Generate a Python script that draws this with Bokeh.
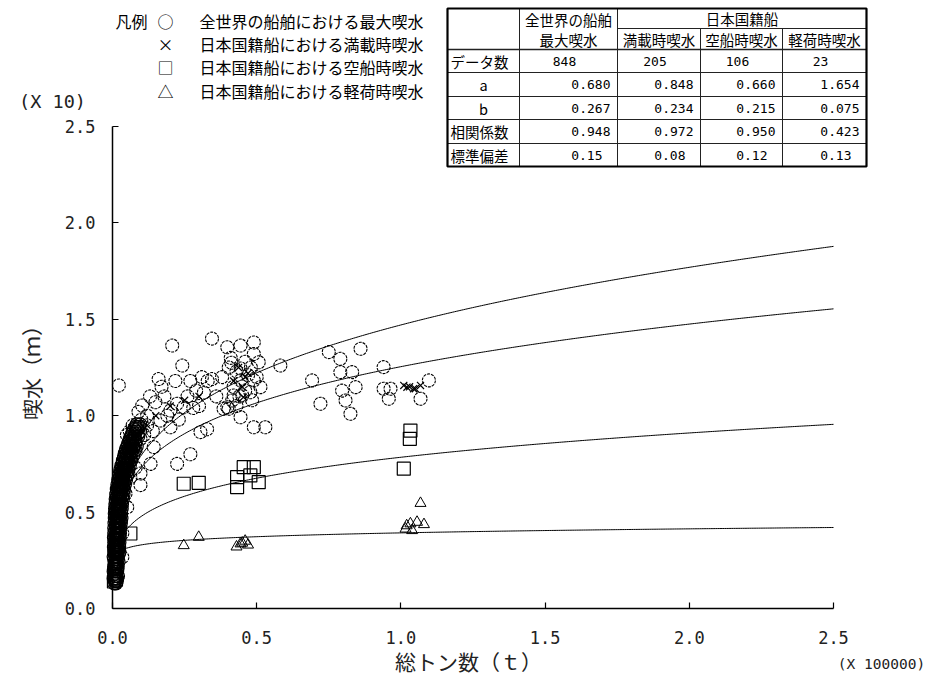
import numpy as np
from bokeh.plotting import figure
from bokeh.models import Range1d, FixedTicker, PrintfTickFormatter
from bokeh.core.properties import value
from bokeh.embed import file_html
from bokeh.resources import INLINE

JP = "Noto Sans CJK JP"
MONO = "DejaVu Sans Mono"

# ---------------- regression table ----------------
group_world = "全世界の船舶"
group_japan = "日本国籍船"
series_heads = ["最大喫水", "満載時喫水", "空船時喫水", "軽荷時喫水"]
row_heads = ["データ数", "a", "b", "相関係数", "標準偏差"]
n_data = [848, 205, 106, 23]
coef_a = [0.680, 0.848, 0.660, 1.654]
coef_b = [0.267, 0.234, 0.215, 0.075]
corr = [0.948, 0.972, 0.950, 0.423]
std_dev = [0.15, 0.08, 0.12, 0.13]
fit_start = [0.003, 0.005, 0.04, 0.03]   # smallest gross tonnage of each fit (x 100000 t)

legend_marks = ["○", "×", "□", "△"]
legend_texts = ["全世界の船舶における最大喫水", "日本国籍船における満載時喫水",
                "日本国籍船における空船時喫水", "日本国籍船における軽荷時喫水"]

x_ticks = [0.0, 0.5, 1.0, 1.5, 2.0, 2.5]
y_ticks = [0.0, 0.5, 1.0, 1.5, 2.0, 2.5]

# ---------------- observations (x 100000 t, x 10 m) ----------------
world_small = [
    (0.006, 0.13), (0.012, 0.13),
    (0.004, 0.155), (0.010, 0.155), (0.016, 0.155),
    (0.007, 0.18), (0.013, 0.18),
    (0.005, 0.205), (0.011, 0.205), (0.017, 0.205),
    (0.008, 0.23), (0.014, 0.23),
    (0.006, 0.255), (0.012, 0.255), (0.018, 0.255),
    (0.009, 0.28), (0.015, 0.28), (0.021, 0.28),
    (0.007, 0.305), (0.013, 0.305), (0.019, 0.305),
    (0.010, 0.33), (0.016, 0.33), (0.022, 0.33),
    (0.008, 0.355), (0.014, 0.355), (0.020, 0.355),
    (0.011, 0.38), (0.017, 0.38), (0.023, 0.38),
    (0.009, 0.405), (0.015, 0.405), (0.021, 0.405),
    (0.012, 0.43), (0.018, 0.43), (0.024, 0.43),
    (0.010, 0.455), (0.016, 0.455), (0.022, 0.455), (0.028, 0.455),
    (0.013, 0.48), (0.019, 0.48), (0.025, 0.48),
    (0.011, 0.505), (0.017, 0.505), (0.023, 0.505), (0.029, 0.505),
    (0.014, 0.53), (0.020, 0.53), (0.026, 0.53),
    (0.012, 0.555), (0.018, 0.555), (0.024, 0.555), (0.030, 0.555),
    (0.015, 0.58), (0.021, 0.58), (0.027, 0.58), (0.033, 0.58),
    (0.017, 0.605), (0.023, 0.605), (0.029, 0.605), (0.035, 0.605),
    (0.019, 0.63), (0.025, 0.63), (0.031, 0.63), (0.037, 0.63),
    (0.022, 0.655), (0.028, 0.655), (0.034, 0.655), (0.040, 0.655),
    (0.025, 0.68), (0.031, 0.68), (0.037, 0.68), (0.044, 0.68),
    (0.028, 0.705), (0.034, 0.705), (0.041, 0.705), (0.048, 0.705),
    (0.031, 0.73), (0.038, 0.73), (0.045, 0.73), (0.052, 0.73),
    (0.035, 0.755), (0.042, 0.755), (0.049, 0.755), (0.056, 0.755),
    (0.039, 0.78), (0.046, 0.78), (0.053, 0.78), (0.061, 0.78),
    (0.043, 0.805), (0.050, 0.805), (0.058, 0.805), (0.066, 0.805),
    (0.048, 0.83), (0.056, 0.83), (0.064, 0.83), (0.072, 0.83),
    (0.054, 0.855), (0.062, 0.855), (0.070, 0.855), (0.079, 0.855),
    (0.060, 0.88), (0.069, 0.88), (0.078, 0.88),
    (0.067, 0.905), (0.077, 0.905), (0.088, 0.905),
    (0.075, 0.93), (0.086, 0.93),
    (0.084, 0.955), (0.096, 0.955),
    (0.009, 0.142), (0.015, 0.142),
    (0.007, 0.168), (0.013, 0.168), (0.019, 0.168),
    (0.004, 0.192), (0.010, 0.192), (0.016, 0.192),
    (0.006, 0.218), (0.012, 0.218), (0.018, 0.218),
    (0.009, 0.242), (0.015, 0.242), (0.021, 0.242),
    (0.004, 0.268), (0.011, 0.268), (0.017, 0.268),
    (0.006, 0.292), (0.012, 0.292), (0.018, 0.292), (0.024, 0.292),
    (0.005, 0.318), (0.011, 0.318), (0.017, 0.318), (0.023, 0.318),
    (0.006, 0.342), (0.012, 0.342), (0.018, 0.342), (0.024, 0.342),
    (0.005, 0.368), (0.011, 0.368), (0.017, 0.368), (0.025, 0.368),
    (0.006, 0.392), (0.013, 0.392), (0.019, 0.392), (0.026, 0.392),
    (0.006, 0.418), (0.012, 0.418), (0.020, 0.418), (0.027, 0.418),
    (0.007, 0.442), (0.014, 0.442), (0.021, 0.442), (0.029, 0.442),
    (0.008, 0.468), (0.016, 0.468), (0.023, 0.468), (0.031, 0.468),
    (0.008, 0.492), (0.015, 0.492), (0.022, 0.492), (0.030, 0.492),
    (0.009, 0.518), (0.017, 0.518), (0.024, 0.518), (0.032, 0.518),
    (0.010, 0.542), (0.017, 0.542), (0.025, 0.542), (0.033, 0.542),
    (0.011, 0.568), (0.019, 0.568), (0.027, 0.568), (0.036, 0.568),
    (0.013, 0.592), (0.020, 0.592), (0.028, 0.592), (0.038, 0.592),
    (0.015, 0.618), (0.022, 0.618), (0.030, 0.618), (0.040, 0.618),
    (0.017, 0.642), (0.025, 0.642), (0.033, 0.642), (0.043, 0.642),
    (0.020, 0.668), (0.028, 0.668), (0.036, 0.668), (0.047, 0.668),
    (0.023, 0.692), (0.031, 0.692), (0.040, 0.692), (0.051, 0.692),
    (0.027, 0.718), (0.035, 0.718), (0.044, 0.718), (0.055, 0.718),
    (0.031, 0.742), (0.040, 0.742), (0.049, 0.742), (0.060, 0.742),
    (0.036, 0.768), (0.045, 0.768), (0.055, 0.768), (0.065, 0.768),
    (0.041, 0.792), (0.050, 0.792), (0.060, 0.792), (0.071, 0.792),
    (0.046, 0.818), (0.056, 0.818), (0.066, 0.818), (0.077, 0.818),
    (0.052, 0.842), (0.062, 0.842), (0.073, 0.842), (0.084, 0.842),
    (0.058, 0.868), (0.069, 0.868), (0.080, 0.868),
    (0.064, 0.892), (0.076, 0.892), (0.089, 0.892),
    (0.071, 0.918), (0.082, 0.918), (0.095, 0.918),
    (0.080, 0.942), (0.092, 0.942),
]
world_large = [
    (0.022, 1.157), (0.207, 1.364), (0.345, 1.400), (0.398, 1.355), (0.444, 1.364),
    (0.490, 1.380), (0.490, 1.320), (0.507, 1.277), (0.242, 1.260), (0.160, 1.190),
    (0.218, 1.180), (0.345, 1.190), (0.290, 1.130), (0.317, 1.120), (0.403, 1.250),
    (0.412, 1.275), (0.444, 1.245), (0.444, 1.183), (0.490, 1.183), (0.513, 1.148),
    (0.415, 1.079), (0.450, 1.105), (0.478, 1.122), (0.403, 1.036), (0.444, 0.992),
    (0.490, 0.940), (0.530, 0.940), (0.582, 1.260), (0.103, 1.053), (0.149, 1.070),
    (0.201, 1.027), (0.247, 1.044), (0.166, 0.975), (0.120, 0.950), (0.086, 0.940),
    (0.097, 0.880), (0.143, 0.837), (0.132, 0.750), (0.097, 0.700), (0.097, 0.640),
    (0.224, 0.750), (0.270, 0.800), (0.328, 0.930), (0.305, 0.915), (0.398, 1.044),
    (0.484, 1.080), (0.420, 1.105), (0.460, 1.130), (0.062, 0.870), (0.080, 0.820),
    (0.080, 0.730), (0.062, 0.680), (0.045, 0.595), (0.051, 0.525), (0.034, 0.390),
    (0.034, 0.266), (0.010, 0.145), (0.224, 1.062), (0.280, 1.040), (0.201, 0.940),
    (0.385, 1.036), (0.860, 1.347), (0.750, 1.330), (0.790, 1.295), (0.790, 1.226),
    (0.831, 1.226), (0.692, 1.183), (0.796, 1.130), (0.843, 1.148), (0.721, 1.062),
    (0.808, 1.079), (0.825, 1.010), (0.940, 1.252), (0.964, 1.140), (0.958, 1.088),
    (1.097, 1.183), (1.068, 1.088), (0.940, 1.140), (0.120, 1.000), (0.130, 1.100),
    (0.180, 1.100), (0.190, 1.000), (0.230, 0.980), (0.260, 1.100), (0.300, 1.050),
    (0.330, 1.180), (0.360, 1.100), (0.100, 0.980), (0.140, 0.920), (0.170, 1.150),
    (0.270, 1.180), (0.310, 1.200), (0.380, 1.200), (0.430, 1.230), (0.460, 1.280),
    (0.470, 1.210), (0.420, 1.150), (0.440, 1.100), (0.410, 1.300), (0.480, 1.250),
    (0.500, 1.200), (0.430, 1.050), (0.090, 1.020), (0.070, 0.950), (0.110, 0.900),
    (0.060, 0.920), (0.050, 0.900),
]
full_load = [
    (0.005, 0.20), (0.008, 0.28), (0.012, 0.35), (0.015, 0.42), (0.020, 0.50),
    (0.025, 0.56), (0.030, 0.62), (0.035, 0.67), (0.045, 0.72), (0.055, 0.78),
    (0.070, 0.85), (0.090, 0.90), (0.120, 0.95), (0.150, 1.00), (0.200, 1.05),
    (0.250, 1.08), (0.300, 1.10), (0.437, 1.250), (0.454, 1.096), (0.460, 1.200),
    (0.420, 1.180), (0.450, 1.150), (0.470, 1.220), (1.010, 1.157), (1.044, 1.140),
    (1.068, 1.157), (1.030, 1.150), (1.021, 1.148), (1.050, 1.140),
]
light_ship = [
    (0.005, 0.14), (0.012, 0.15), (0.008, 0.22), (0.012, 0.30), (0.016, 0.36),
    (0.062, 0.389), (0.247, 0.647), (0.299, 0.652), (0.432, 0.630), (0.432, 0.681),
    (0.455, 0.733), (0.490, 0.733), (0.478, 0.690), (0.507, 0.655), (1.033, 0.923),
    (1.031, 0.880), (1.010, 0.725),
]
light_load = [
    (0.010, 0.25), (0.015, 0.30), (0.020, 0.32), (0.247, 0.327), (0.299, 0.370),
    (0.444, 0.336), (0.430, 0.320), (0.460, 0.350), (0.450, 0.340), (0.470, 0.330),
    (1.068, 0.546), (1.033, 0.440), (1.016, 0.413), (1.056, 0.448), (1.080, 0.436),
    (1.039, 0.405), (1.020, 0.430),
]

# ---------------- page geometry ----------------
W, H = 925, 674
PX0, PY0 = 112, 608          # origin of the axes on the page
KX, KY = 288.4, 192.8        # pixels per axis unit


def ux(px):
    return (px - PX0) / KX


def uy(py):
    return (PY0 - py) / KY


# the frame fills the page; the axes sit at the origin via fixed_location
p = figure(width=W, height=H, x_range=Range1d(ux(0), ux(W)), y_range=Range1d(uy(H), uy(0)),
           output_backend="svg", toolbar_location=None, min_border=0)
p.outline_line_color = None
p.grid.visible = False
p.background_fill_color = "white"
p.border_fill_color = "white"

for ax, ticks in ((p.xaxis, x_ticks), (p.yaxis, y_ticks)):
    ax.fixed_location = 0
    ax.bounds = (0, 2.5)
    ax.ticker = FixedTicker(ticks=ticks)
    ax.formatter = PrintfTickFormatter(format="%.1f")
    ax.major_tick_in = 6
    ax.major_tick_out = 0
    ax.minor_tick_in = 0
    ax.minor_tick_out = 0
    ax.axis_line_width = 1.5
    ax.major_tick_line_width = 1.2
    ax.axis_line_color = "black"
    ax.major_tick_line_color = "black"
    ax.major_label_text_font = MONO
    ax.major_label_text_font_size = "17px"
    ax.major_label_text_color = "#222222"
p.xaxis.major_label_standoff = 22
p.yaxis.major_label_standoff = 17
p.yaxis.axis_label = "喫水（ｍ）"
p.yaxis.axis_label_text_font = JP
p.yaxis.axis_label_text_font_size = "21px"
p.yaxis.axis_label_text_font_style = "normal"
p.yaxis.axis_label_text_color = "#222222"
p.yaxis.axis_label_standoff = 16

# ---------------- fitted curves: draft = a * GT^b ----------------
for a, b, x0 in zip(coef_a, coef_b, fit_start):
    gx = np.linspace(x0, 2.5, 400)
    gy = a * (gx * 1e5) ** b / 10.0
    p.line(gx, gy, line_color="black", line_width=1)

# ---------------- observations ----------------
# dense cluster of small ships drawn with solid outlines, the rest dashed
p.scatter([q[0] for q in world_small], [q[1] for q in world_small], marker="circle", size=13,
          fill_color=None, line_color="black", line_width=1.2)
p.scatter([q[0] for q in world_large], [q[1] for q in world_large], marker="circle", size=13,
          fill_color=None, line_color="black", line_width=1.1, line_dash="3 1")
p.scatter([q[0] for q in full_load], [q[1] for q in full_load], marker="x", size=10,
          line_color="black", line_width=1.2)
p.scatter([q[0] for q in light_ship], [q[1] for q in light_ship], marker="square", size=13,
          fill_color=None, line_color="black", line_width=1.2)
p.scatter([q[0] for q in light_load], [q[1] for q in light_load], marker="triangle", size=11,
          fill_color=None, line_color="black", line_width=1)


def put(px, py, texts, font=JP, size="16px", align="left", color="black"):
    p.text([ux(x) for x in px], [uy(y) for y in py], text=texts,
           text_font=value(font), text_font_size=value(size), text_color=color,
           text_align=align, text_baseline="middle")


# ---------------- legend and axis captions ----------------
leg_rows = [20, 43, 66, 90]
put([147], [20], ["凡例"], align="right")
put([165] * 4, leg_rows, legend_marks, align="center")
put([199] * 4, leg_rows, legend_texts)
put([52], [101], ["(X 10)"], font=MONO, size="18.5px", align="center", color="#222222")
put([881], [663], ["(X 100000)"], font=MONO, size="14.5px", align="center", color="#222222")
put([468], [660], ["総トン数（ｔ）"], size="21px", align="center", color="#222222")

# ---------------- table ----------------
cx = [447, 519, 617, 700, 782, 866]
ry = [8, 28, 49, 72, 96, 119, 143, 166]

seg = {"x0": [], "y0": [], "x1": [], "y1": [], "w": []}


def hline(y, xa, xb, w=1.0):
    seg["x0"].append(ux(xa)); seg["x1"].append(ux(xb))
    seg["y0"].append(uy(y)); seg["y1"].append(uy(y)); seg["w"].append(w)


def vline(x, ya, yb, w=1.0):
    seg["x0"].append(ux(x)); seg["x1"].append(ux(x))
    seg["y0"].append(uy(ya)); seg["y1"].append(uy(yb)); seg["w"].append(w)


hline(ry[1], cx[2], cx[5])
hline(ry[2], cx[0], cx[5], 1.5)
for y in ry[3:-1]:
    hline(y, cx[0], cx[5])
vline(cx[1], ry[0], ry[-1])
vline(cx[2], ry[0], ry[-1])
vline(cx[3], ry[1], ry[-1])
vline(cx[4], ry[1], ry[-1])
p.segment("x0", "y0", "x1", "y1", source=seg, line_color="#222222", line_width="w")
p.quad(left=ux(cx[0]), right=ux(cx[5]), top=uy(ry[0]), bottom=uy(ry[-1]),
       fill_color=None, line_color="black", line_width=2.2)

hx = [(cx[1] + cx[2]) / 2, (cx[2] + cx[3]) / 2, (cx[3] + cx[4]) / 2, (cx[4] + cx[5]) / 2]
put([hx[0], (cx[2] + cx[5]) / 2], [19, 18], [group_world, group_japan], size="14.5px", align="center")
put(hx, [39] * 4, series_heads, size="14.5px", align="center")

row_mid = [(ry[i] + ry[i + 1]) / 2 for i in range(2, 7)]
row_x = [450, (cx[0] + cx[1]) / 2, (cx[0] + cx[1]) / 2, 450, 450]
row_al = ["left", "center", "center", "left", "left"]
p.text([ux(x) for x in row_x], [uy(y) for y in row_mid], text=row_heads,
       text_font=value(JP), text_font_size=value("14.5px"), text_align=row_al,
       text_baseline="middle", text_color="black")

vx, vy, vt, va = [], [], [], []
for j in range(4):
    left, right = cx[j + 1], cx[j + 2]
    vx.append((left + right) / 2 - 4); vy.append(row_mid[0]); vt.append(str(n_data[j])); va.append("center")
    for k, vals in enumerate((coef_a, coef_b, corr)):
        vx.append(right - 7); vy.append(row_mid[k + 1]); vt.append(f"{vals[j]:.3f}"); va.append("right")
    vx.append(right - 15); vy.append(row_mid[4]); vt.append(f"{std_dev[j]:.2f}"); va.append("right")
p.text([ux(x) for x in vx], [uy(y) for y in vy], text=vt, text_align=va,
       text_font=value(MONO), text_font_size=value("13px"), text_baseline="middle",
       text_color="black")

open("out.html", "w").write(file_html(p, INLINE))
